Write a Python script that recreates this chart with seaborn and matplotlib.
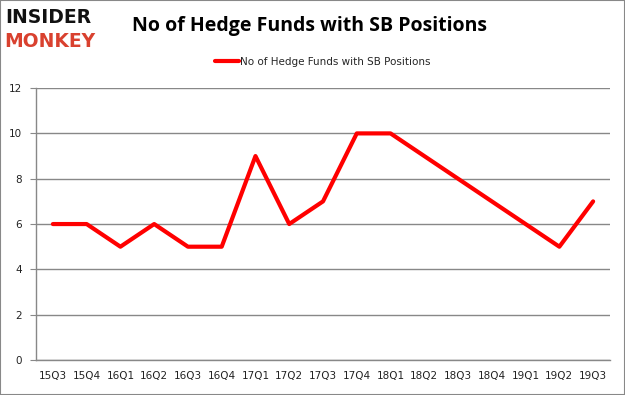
import matplotlib
matplotlib.use("Agg")
import matplotlib.pyplot as plt
import seaborn as sns
import pandas as pd
import numpy as np

quarters = ["15Q3", "15Q4", "16Q1", "16Q2", "16Q3", "16Q4", "17Q1", "17Q2", "17Q3",
            "17Q4", "18Q1", "18Q2", "18Q3", "18Q4", "19Q1", "19Q2", "19Q3"]
funds = [6, 6, 5, 6, 5, 5, 9, 6, 7, 10, 10, 9, 8, 7, 6, 5, 7]
series_name = "No of Hedge Funds with SB Positions"
yticks = [0, 2, 4, 6, 8, 10, 12]

sns.set_style("white")
plt.rcParams['font.family'] = ['DejaVu Sans']

df = pd.DataFrame({"quarter": quarters, "funds": funds})

fig = plt.figure(figsize=(6.25, 3.95), dpi=100)
ax = fig.add_axes([0.0576, 0.0886, 0.9184, 0.6884])

sns.lineplot(data=df, x="quarter", y="funds", ax=ax, color="#ff0000",
             linewidth=3, label=series_name, sort=False)

ax.set_xlim(-0.5, len(quarters) - 0.5)
ax.set_ylim(0, 12)
ax.set_yticks(yticks)
ax.set_xticks(range(len(quarters)))
ax.set_xticklabels(quarters)
ax.set_xticks(np.arange(-0.5, len(quarters)), minor=True)
ax.tick_params(axis="x", which="major", length=0, pad=8, labelsize=7.5, colors="#222222")
ax.tick_params(axis="x", which="minor", length=4, color="#888888", width=1)
ax.tick_params(axis="y", length=4, color="#888888", labelsize=7.5, labelcolor="#222222", pad=6)
ax.tick_params(axis="y", which="major", left=True, direction="out")
ax.set_xlabel("")
ax.set_ylabel("")
ax.grid(axis="y", color="#888888", linewidth=1)
ax.set_axisbelow(True)
for s in ["top", "right"]:
    ax.spines[s].set_visible(False)
for s in ["left", "bottom"]:
    ax.spines[s].set_color("#888888")
    ax.spines[s].set_linewidth(1)

leg = ax.legend(loc="center", bbox_to_anchor=(0.5, 1.096), frameon=False,
                fontsize=7.5, handlelength=2.3, handletextpad=0.1)

fig.text(0.496, 0.935, "No of Hedge Funds with SB Positions", ha="center", va="center",
         fontsize=14, fontweight="bold", family="Open Sans", color="#000000")

fig.text(0.008, 0.955, "INSIDER", ha="left", va="center", fontsize=13.5, fontweight="heavy",
         color="#111111", family="DejaVu Sans")
fig.text(0.006, 0.895, "MONKEY", ha="left", va="center", fontsize=13.5, fontweight="heavy",
         color="#d9412f", family="DejaVu Sans")

border = plt.Rectangle((0, 0), 1, 1, transform=fig.transFigure, fill=False,
                       edgecolor="#888888", linewidth=1.5)
fig.patches.append(border)

fig.savefig("out.png", dpi=100)
